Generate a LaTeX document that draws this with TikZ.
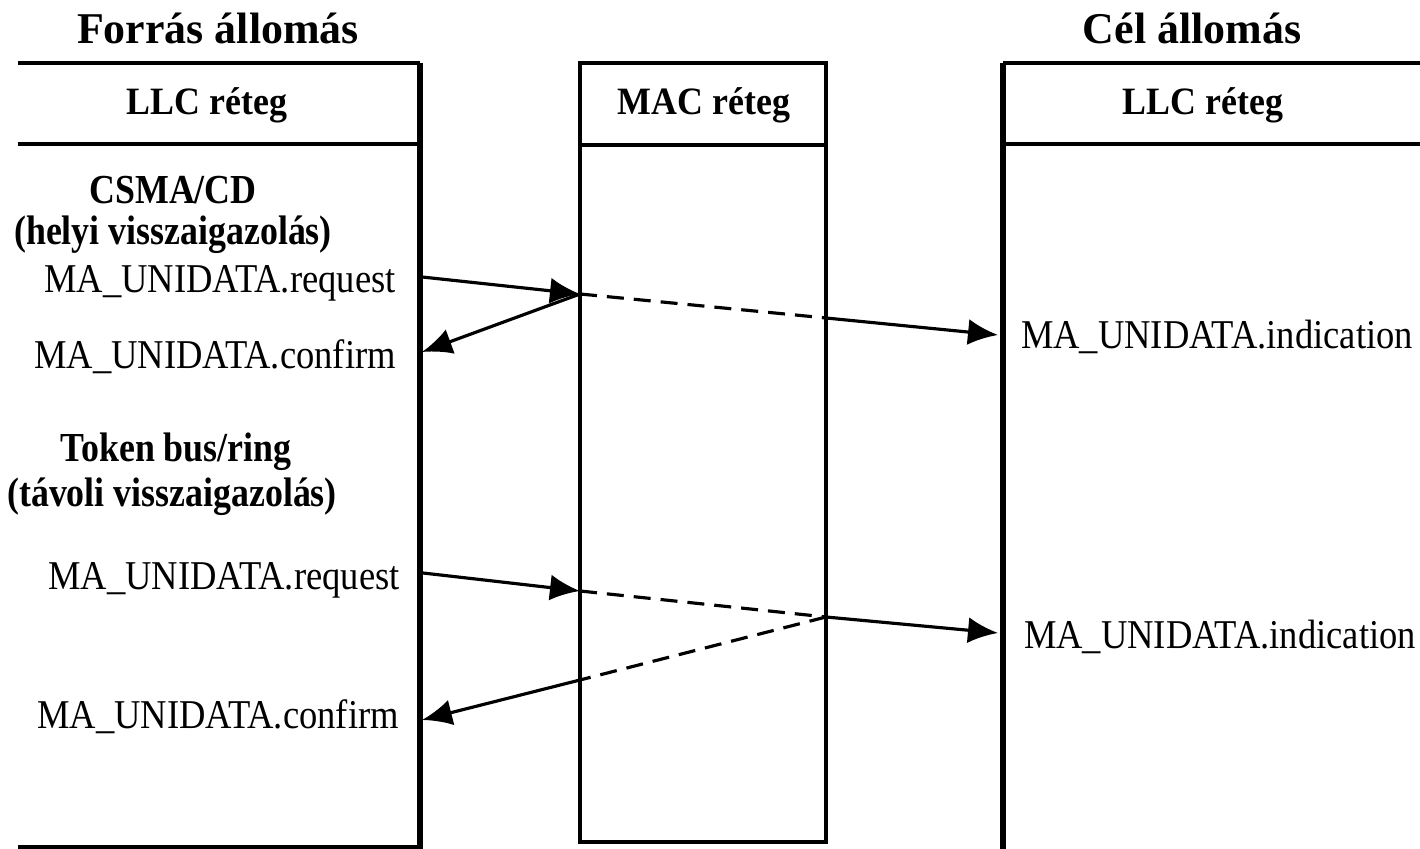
\documentclass[tikz,border=0pt]{standalone}
\usepackage{fontspec}
\setmainfont{Liberation Serif}
\usetikzlibrary{arrows.meta}

\newcommand{\tall}[2][1.12]{\scalebox{1}[#1]{#2}}

\begin{document}
\begin{tikzpicture}[scale=1.0,
  wall/.style={line width=1.2pt},
  post/.style={line width=1.7pt},
  msg/.style={line width=0.9pt},
  sig/.style={msg,-{Latex[length=3mm,width=2.6mm]}},
  gap/.style={msg,dash pattern=on 1.7mm off 1mm},
  lbl/.style={font=\fontsize{10.4}{12}\selectfont},
  head/.style={font=\fontsize{10.2}{12}\selectfont\bfseries},
  title/.style={font=\fontsize{12.5}{15}\selectfont\bfseries}]
\useasboundingbox (0,0) rectangle (14.2,8.49);

% forras allomas
\draw[wall] (0.18,7.86) -- (4.20,7.86);
\draw[wall] (0.18,7.05) -- (4.20,7.05);
\draw[wall] (0.18,0.02) -- (4.20,0.02);
\draw[post] (4.20,7.86) -- (4.20,0);
% MAC
\draw[wall] (5.80,0.07) rectangle (8.26,7.86);
\draw[wall] (5.80,7.04) -- (8.28,7.04);
% cel allomas
\draw[wall] (10.03,7.86) -- (14.2,7.86);
\draw[wall] (10.03,7.05) -- (14.2,7.05);
\draw[post] (10.03,7.86) -- (10.03,0);

\node[title] (src) at (2.18,8.21) {Forrás állomás};
\node[title] (dst) at (11.92,8.21) {Cél állomás};
\node[head] (llcA) at (2.07,7.44) {\tall[1.08]{LLC réteg}};
\node[head] (mac) at (7.04,7.44) {\tall[1.08]{MAC réteg}};
\node[head] (llcB) at (12.03,7.44) {\tall[1.08]{LLC réteg}};

\node[head] (csma) at (1.73,6.59) {\tall[1.15]{CSMA/CD}};
\node[head] (helyi) at (1.73,6.14) {\tall[1.15]{(helyi visszaigazolás)}};
\node[lbl] (reqA) at (2.20,5.66) {\tall{MA\_UNIDATA.request}};
\node[lbl] (cnfA) at (2.15,4.92) {\tall{MA\_UNIDATA.confirm}};
\node[lbl] (indA) at (12.17,5.12) {\tall{MA\_UNIDATA.indication}};

\node[head] (token) at (1.76,3.97) {\tall[1.15]{Token bus/ring}};
\node[head] (tavoli) at (1.72,3.52) {\tall[1.15]{(távoli visszaigazolás)}};
\node[lbl] (reqB) at (2.24,2.69) {\tall{MA\_UNIDATA.request}};
\node[lbl] (cnfB) at (2.18,1.32) {\tall{MA\_UNIDATA.confirm}};
\node[lbl] (indB) at (12.20,2.12) {\tall{MA\_UNIDATA.indication}};

% CSMA/CD
\coordinate (a0) at (4.22,5.72);
\coordinate (a1) at (5.80,5.55);
\coordinate (a2) at (4.22,4.97);
\coordinate (a3) at (8.26,5.31);
\coordinate (a4) at (9.98,5.14);
\draw[sig] (a0) -- (a1);
\draw[sig] (a1) -- (a2);
\draw[gap] (a1) -- (a3);
\draw[sig] (a3) -- (a4);

% token
\coordinate (b0) at (4.23,2.76);
\coordinate (b1) at (5.80,2.58);
\coordinate (b2) at (8.26,2.32);
\coordinate (b3) at (9.98,2.16);
\coordinate (b4) at (5.80,1.69);
\coordinate (b5) at (4.22,1.29);
\draw[sig] (b0) -- (b1);
\draw[gap] (b1) -- (b2);
\draw[sig] (b2) -- (b3);
\draw[gap] (b2) -- (b4);
\draw[sig] (b4) -- (b5);

\end{tikzpicture}
\end{document}
